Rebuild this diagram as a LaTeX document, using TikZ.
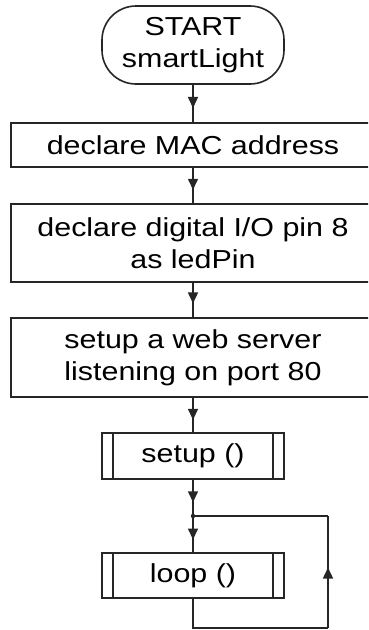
\documentclass[tikz,border=0pt]{standalone}
\usepackage{fontspec}
\setmainfont[FakeStretch=1.17]{Liberation Sans}
\usetikzlibrary{arrows.meta,decorations.markings}
\begin{document}
\begin{tikzpicture}[x=1pt,y=-1pt,
  every node/.style={font=\fontsize{26}{32}\selectfont, align=center, inner sep=0pt},
  ln/.style={line width=1.6pt, draw=black!85},
  term/.style={ln, rounded corners=34pt, minimum width=182pt, minimum height=78pt},
  proc/.style={ln, minimum width=364pt, minimum height=#1},
  subp/.style={ln, minimum width=182pt, minimum height=#1},
  arr/.style={ln, postaction={decorate}, decoration={markings,
    mark=at position #1 with {\arrow{Triangle[length=11pt,width=10pt]}}}}
]
\useasboundingbox (0,0) rectangle (368,630);
\clip (0,0) rectangle (368,630);
\node[term] (start) at (193,45) {START\\smartLight};
\node[proc=44pt] (b1) at (193,145) {declare MAC address};
\node[proc=78pt] (b2) at (193,243) {declare digital I/O pin 8\\as ledPin};
\node[proc=79pt] (b3) at (193,357.5) {setup a web server\\listening on port 80};
\node[subp=46pt] (setup) at (193,456) {setup ()};
\node[subp=45pt] (loop) at (193,575.5) {loop ()};
\foreach \n in {setup,loop}{
  \draw[ln] ([xshift=12pt]\n.north west) -- ([xshift=12pt]\n.south west);
  \draw[ln] ([xshift=-12pt]\n.north east) -- ([xshift=-12pt]\n.south east);
}
\coordinate (j) at (193,516);
\coordinate (c1) at (328,628);
\coordinate (c2) at (328,516);
\draw[arr=0.62] (start) -- (b1);
\draw[arr=0.62] (b1) -- (b2);
\draw[arr=0.6] (b2) -- (b3);
\draw[arr=0.64] (b3) -- (setup);
\draw[arr=0.62] (setup) -- (j);
\draw[arr=0.65] (j) -- (loop);
\draw[ln] (loop.south) |- (c1);
\draw[arr=0.54] (c1) -- (c2);
\draw[ln] (c2) -- (j);
\fill[black!85] (j) circle (2.2pt);
\end{tikzpicture}
\end{document}
